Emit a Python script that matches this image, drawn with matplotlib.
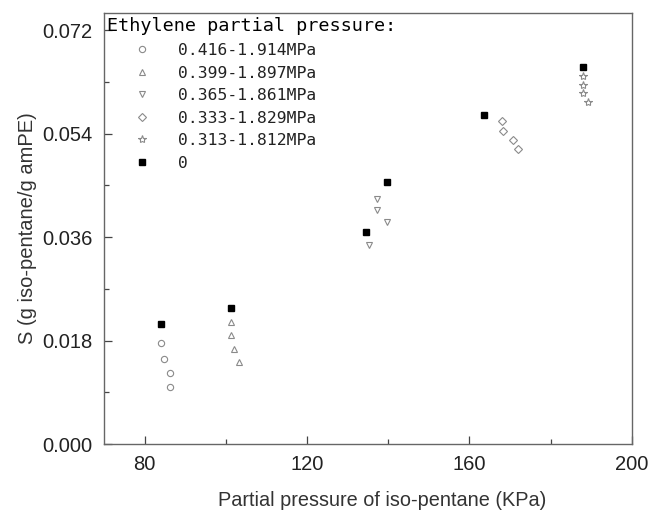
import matplotlib
matplotlib.use("Agg")
import matplotlib.pyplot as plt
from matplotlib.ticker import MultipleLocator, FormatStrFormatter

# iso-pentane partial pressure (KPa) and solubility S for each ethylene pressure range
labels = ["0.416-1.914MPa", "0.399-1.897MPa", "0.365-1.861MPa",
          "0.333-1.829MPa", "0.313-1.812MPa", "0"]

x_416 = [84.1, 84.8, 86.2, 86.2]
s_416 = [0.0175, 0.0147, 0.0123, 0.0099]

x_399 = [101.3, 101.3, 102.1, 103.3]
s_399 = [0.0213, 0.0190, 0.0165, 0.0142]

x_365 = [137.3, 137.3, 139.6, 135.4]
s_365 = [0.0426, 0.0407, 0.0387, 0.0346]

x_333 = [168.0, 168.3, 170.7, 172.1]
s_333 = [0.0561, 0.0544, 0.0529, 0.0514]

x_313 = [188.1, 188.1, 188.1, 189.2]
s_313 = [0.0640, 0.0624, 0.0610, 0.0595]

x_0 = [84.1, 101.3, 134.6, 139.6, 163.6, 188.1]
s_0 = [0.0209, 0.0236, 0.0369, 0.0455, 0.0572, 0.0656]

series = [(x_416, s_416, "o"), (x_399, s_399, "^"), (x_365, s_365, "v"),
          (x_333, s_333, "D"), (x_313, s_313, "*"), (x_0, s_0, "s")]

fig = plt.figure(figsize=(6.54, 5.13), dpi=100)
ax = fig.add_axes([0.159, 0.1345, 0.807, 0.8405])

grey = "#8a8a8a"
for (xs, ys, m), lab in zip(series, labels):
    if m == "s":
        ax.plot(xs, ys, ls="none", marker=m, ms=4, mfc="black", mec="black", label=lab)
    else:
        ms = 6 if m == "*" else (3.8 if m == "D" else 4.5)
        ax.plot(xs, ys, ls="none", marker=m, ms=ms, mfc="white", mec=grey,
                mew=0.8, label=lab)

ax.set_xlim(70, 200)
ax.set_ylim(0, 0.075)
ax.set_xticks([80, 120, 160, 200])
ax.xaxis.set_minor_locator(MultipleLocator(20))
ax.yaxis.set_major_locator(MultipleLocator(0.018))
ax.yaxis.set_minor_locator(MultipleLocator(0.009))
ax.yaxis.set_major_formatter(FormatStrFormatter("%.3f"))

ax.tick_params(which="both", direction="in", top=False, right=False,
               color="#444444", labelsize=14.5, pad=8)
ax.tick_params(which="major", length=6, width=0.9)
ax.tick_params(which="minor", length=3.5, width=0.9)
for sp in ax.spines.values():
    sp.set_color("#666666")
    sp.set_linewidth(1.0)

ax.set_xlabel("Partial pressure of iso-pentane (KPa)", fontsize=14.3, labelpad=12,
              color="#333333")
ax.xaxis.label.set_x(0.527)
ax.set_ylabel("S (g iso-pentane/g amPE)", fontsize=14.5, labelpad=4, color="#333333")
for t in ax.get_xticklabels() + ax.get_yticklabels():
    t.set_color("#222222")
    t.set_family(["Liberation Sans", "DejaVu Sans"])
ax.xaxis.label.set_family(["Liberation Sans", "DejaVu Sans"])
ax.yaxis.label.set_family(["Liberation Sans", "DejaVu Sans"])

leg = ax.legend(title="Ethylene partial pressure:", loc="upper left",
                frameon=False, bbox_to_anchor=(-0.012, 1.012),
                prop={"family": "DejaVu Sans Mono", "size": 11.8},
                title_fontproperties={"family": "DejaVu Sans Mono", "size": 13.3},
                handlelength=4.2, handletextpad=0.1, borderpad=0.3,
                labelspacing=0.46, borderaxespad=0.3, markerscale=1.0)
leg._legend_box.align = "left"
for t in leg.get_texts():
    t.set_color("#222222")

fig.savefig("out.png", dpi=100)
